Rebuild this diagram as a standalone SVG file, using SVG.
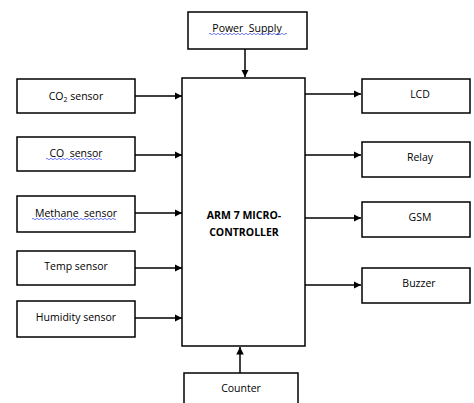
<svg xmlns="http://www.w3.org/2000/svg" width="474" height="403" viewBox="0 0 474 403">
<defs>
<style>
.box{fill:#fff;stroke:#000;stroke-width:1.5}
.t{font-family:"Open Sans","Liberation Sans",sans-serif;font-size:10.5px;fill:#000;text-anchor:middle;dominant-baseline:central;white-space:pre}
.b{font-weight:bold;font-size:10.5px}
.c{stroke:#000;stroke-width:1.5;fill:none;marker-end:url(#ah)}
.w{stroke:#4a5cff;stroke-width:0.8;fill:none}
</style>
<marker id="ah" viewBox="0 0 10 10" refX="10" refY="5" markerWidth="5" markerHeight="5" orient="auto" markerUnits="strokeWidth">
<path d="M0,0 L10,5 L0,10 z" fill="#000"/>
</marker>
</defs>
<rect width="474" height="403" fill="#fff"/>
<g id="connectors">
<line class="c" x1="245" y1="49" x2="245" y2="77"/>
<line class="c" x1="135" y1="96" x2="182" y2="96"/>
<line class="c" x1="135" y1="155" x2="182" y2="155"/>
<line class="c" x1="135" y1="213" x2="182" y2="213"/>
<line class="c" x1="135" y1="268" x2="182" y2="268"/>
<line class="c" x1="135" y1="318" x2="182" y2="318"/>
<line class="c" x1="305" y1="94" x2="361" y2="94"/>
<line class="c" x1="305" y1="155" x2="361" y2="155"/>
<line class="c" x1="305" y1="218" x2="361" y2="218"/>
<line class="c" x1="305" y1="285" x2="361" y2="285"/>
<line class="c" x1="240" y1="373" x2="240" y2="347"/>
</g>
<g id="power">
<rect class="box" x="188" y="12" width="119" height="37"/>
<text class="t" x="247" y="28" xml:space="preserve">Power  Supply</text>
<path class="w" d="M209,34 q1,-1.5 2,0 t2,0 t2,0 t2,0 t2,0 t2,0 t2,0 t2,0 t2,0 t2,0 t2,0 t2,0 t2,0 t2,0 t2,0 t2,0 t2,0 t2,0 t2,0 t2,0 t2,0 t2,0 t2,0 t2,0 t2,0 t2,0 t2,0 t2,0 t2,0 t2,0 t2,0 t2,0 t2,0 t2,0 t2,0 t2,0 t2,0 t2,0 t2,0"/>
</g>
<g id="mcu">
<rect class="box" x="182" y="78" width="123" height="268"/>
<text class="t b" x="244" y="215">ARM 7 MICRO-</text>
<text class="t b" x="244" y="232">CONTROLLER</text>
</g>
<g id="co2">
<rect class="box" x="17" y="79" width="118" height="34"/>
<text class="t" x="76" y="96">CO<tspan font-size="7" dy="2.5">2</tspan><tspan dy="-2.5"> sensor</tspan></text>
</g>
<g id="co">
<rect class="box" x="17" y="137" width="118" height="34"/>
<text class="t" x="76" y="153" xml:space="preserve">CO  sensor</text>
<path class="w" d="M46,159 q1,-1.5 2,0 t2,0 t2,0 t2,0 t2,0 t2,0 t2,0 t2,0 t2,0 t2,0 t2,0 t2,0 t2,0 t2,0 t2,0 t2,0 t2,0 t2,0 t2,0 t2,0 t2,0 t2,0 t2,0 t2,0 t2,0 t2,0 t2,0 t2,0"/>
</g>
<g id="methane">
<rect class="box" x="17" y="196" width="118" height="36"/>
<text class="t" x="76" y="213" xml:space="preserve">Methane  sensor</text>
<path class="w" d="M32,219 q1,-1.5 2,0 t2,0 t2,0 t2,0 t2,0 t2,0 t2,0 t2,0 t2,0 t2,0 t2,0 t2,0 t2,0 t2,0 t2,0 t2,0 t2,0 t2,0 t2,0 t2,0 t2,0 t2,0 t2,0 t2,0 t2,0 t2,0 t2,0 t2,0 t2,0 t2,0 t2,0 t2,0 t2,0 t2,0 t2,0 t2,0 t2,0 t2,0 t2,0 t2,0 t2,0 t2,0"/>
</g>
<g id="temp">
<rect class="box" x="17" y="251" width="118" height="34"/>
<text class="t" x="76" y="266">Temp sensor</text>
</g>
<g id="humidity">
<rect class="box" x="17" y="301" width="118" height="36"/>
<text class="t" x="76" y="317">Humidity sensor</text>
</g>
<g id="lcd">
<rect class="box" x="362" y="79" width="108" height="34"/>
<text class="t" x="420" y="94">LCD</text>
</g>
<g id="relay">
<rect class="box" x="362" y="142" width="108" height="35"/>
<text class="t" x="420" y="157">Relay</text>
</g>
<g id="gsm">
<rect class="box" x="362" y="202" width="108" height="35"/>
<text class="t" x="420" y="217">GSM</text>
</g>
<g id="buzzer">
<rect class="box" x="362" y="268" width="108" height="35"/>
<text class="t" x="419" y="283">Buzzer</text>
</g>
<g id="counter">
<rect class="box" x="184" y="373" width="114" height="40"/>
<text class="t" x="241" y="388">Counter</text>
</g>
</svg>
